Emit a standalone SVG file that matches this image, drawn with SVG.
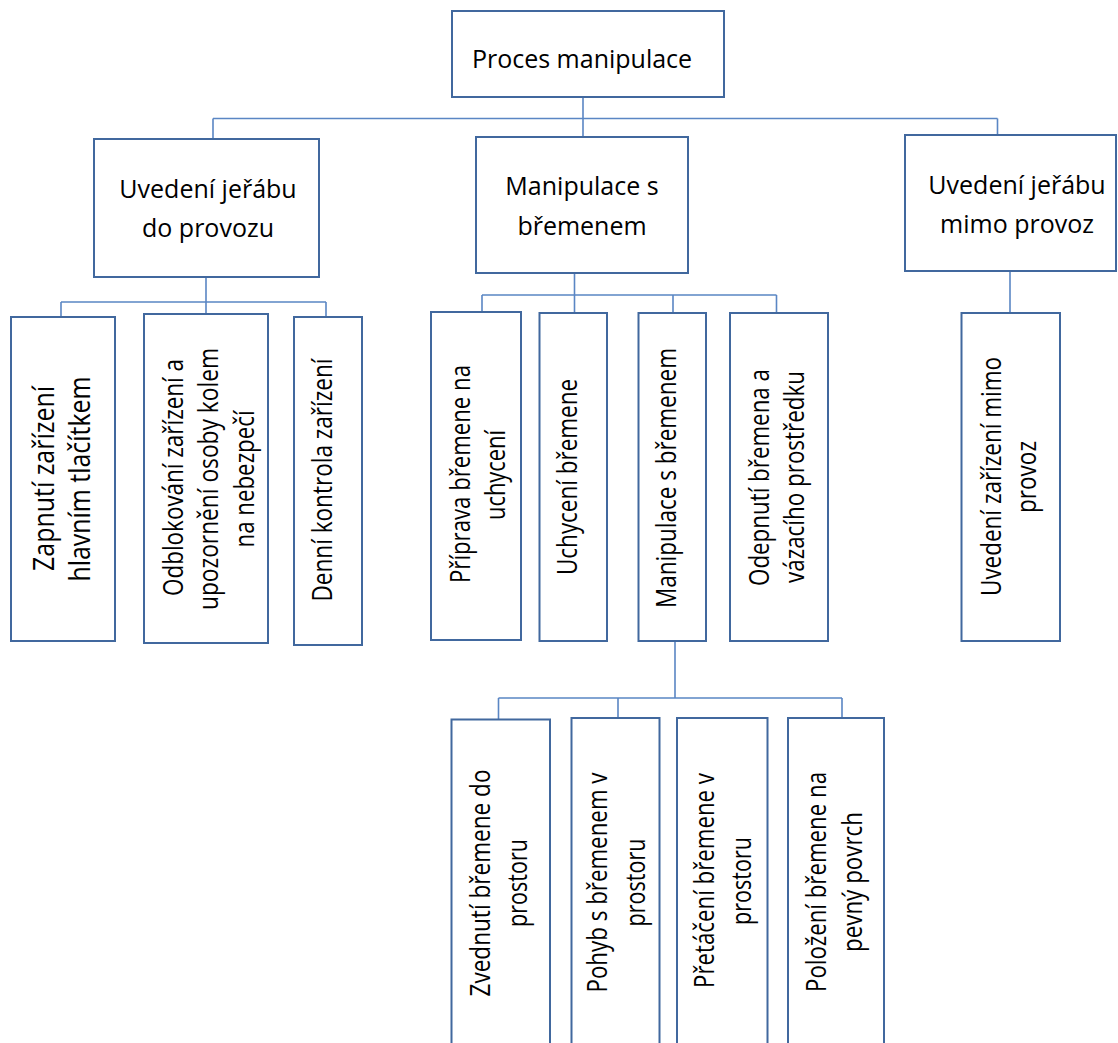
<svg xmlns="http://www.w3.org/2000/svg" width="1118" height="1043" viewBox="0 0 1118 1043">
<style>
.box{fill:#ffffff;stroke:#41689e;stroke-width:2}
.con{fill:none;stroke:#5a86c4;stroke-width:1.6}
.h{font-family:"Open Sans","Noto Sans",sans-serif;font-size:25px;fill:#000;text-anchor:middle}
.v{font-family:"Open Sans","Noto Sans",sans-serif;font-size:27px;fill:#000;text-anchor:middle}
.vb{font-size:30px}
</style>
<rect width="1118" height="1043" fill="#ffffff"/>
<g id="connectors">
<path class="con" d="M583 97V118.5M213 118.5H997.5M213 118.5V139M583 118.5V137M997.5 118.5V135"/>
<path class="con" d="M206 277V314M61 302H326M61 302V317M326 302V317"/>
<path class="con" d="M574.5 273V313M482 295H776.5M482 295V312M673 295V313M776.5 295V313"/>
<path class="con" d="M1010 271V313"/>
<path class="con" d="M675 641V698M498.5 698H842M498.5 698V719.5M618 698V718M842 698V718"/>
</g>
<g id="n-root">
<rect class="box" x="452" y="11" width="272" height="86"/>
<text class="h" x="582" y="68">Proces manipulace</text>
</g>
<g id="n-uvedeni-do">
<rect class="box" x="94" y="139" width="225" height="138"/>
<text class="h" x="208" y="198">Uvedení jeřábu</text>
<text class="h" x="208" y="237">do provozu</text>
</g>
<g id="n-manipulace">
<rect class="box" x="476" y="137" width="212" height="136"/>
<text class="h" x="582" y="195">Manipulace s</text>
<text class="h" x="582" y="235">břemenem</text>
</g>
<g id="n-uvedeni-mimo">
<rect class="box" x="905" y="135" width="211" height="136"/>
<text class="h" x="1017" y="194">Uvedení jeřábu</text>
<text class="h" x="1017" y="233">mimo provoz</text>
</g>
<g id="n-zapnuti">
<rect class="box" x="11" y="317" width="104" height="324"/>
<text class="v vb" transform="translate(53.5,478.5) rotate(-90)" textLength="185" lengthAdjust="spacingAndGlyphs">Zapnutí zařízení</text>
<text class="v vb" transform="translate(90,479) rotate(-90)" textLength="205" lengthAdjust="spacingAndGlyphs">hlavním tlačítkem</text>
</g>
<g id="n-odblokovani">
<rect class="box" x="144" y="314" width="124" height="329"/>
<text class="v" transform="translate(182.5,477.5) rotate(-90)" textLength="237" lengthAdjust="spacingAndGlyphs">Odblokování zařízení a</text>
<text class="v" transform="translate(217.5,479) rotate(-90)" textLength="262" lengthAdjust="spacingAndGlyphs">upozornění osoby kolem</text>
<text class="v" transform="translate(254,479) rotate(-90)" textLength="137" lengthAdjust="spacingAndGlyphs">na nebezpečí</text>
</g>
<g id="n-denni">
<rect class="box" x="294" y="317" width="68" height="328"/>
<text class="v" transform="translate(332,480) rotate(-90)" textLength="243" lengthAdjust="spacingAndGlyphs">Denní kontrola zařízení</text>
</g>
<g id="n-priprava">
<rect class="box" x="431" y="312" width="90" height="328"/>
<text class="v" transform="translate(470,474) rotate(-90)" textLength="218" lengthAdjust="spacingAndGlyphs">Příprava břemene na</text>
<text class="v" transform="translate(505,475) rotate(-90)" textLength="90" lengthAdjust="spacingAndGlyphs">uchycení</text>
</g>
<g id="n-uchyceni">
<rect class="box" x="539.5" y="313" width="67.5" height="328"/>
<text class="v" transform="translate(577,477) rotate(-90)" textLength="196" lengthAdjust="spacingAndGlyphs">Uchycení břemene</text>
</g>
<g id="n-manipulace-s">
<rect class="box" x="638.5" y="313" width="67.5" height="328"/>
<text class="v" transform="translate(676,478) rotate(-90)" textLength="260" lengthAdjust="spacingAndGlyphs">Manipulace s břemenem</text>
</g>
<g id="n-odepnuti">
<rect class="box" x="730" y="313" width="98" height="328"/>
<text class="v" transform="translate(769,477.5) rotate(-90)" textLength="217" lengthAdjust="spacingAndGlyphs">Odepnutí břemena a</text>
<text class="v" transform="translate(804,477) rotate(-90)" textLength="212" lengthAdjust="spacingAndGlyphs">vázacího prostředku</text>
</g>
<g id="n-uvedeni-zarizeni">
<rect class="box" x="961.5" y="313" width="98.5" height="328"/>
<text class="v" transform="translate(1000.5,476.5) rotate(-90)" textLength="239" lengthAdjust="spacingAndGlyphs">Uvedení zařízení mimo</text>
<text class="v" transform="translate(1036,477) rotate(-90)" textLength="72" lengthAdjust="spacingAndGlyphs">provoz</text>
</g>
<g id="n-zvednuti">
<rect class="box" x="451.5" y="719.5" width="98.5" height="340"/>
<text class="v" transform="translate(490,883) rotate(-90)" textLength="227" lengthAdjust="spacingAndGlyphs">Zvednutí břemene do</text>
<text class="v" transform="translate(527,883) rotate(-90)" textLength="88" lengthAdjust="spacingAndGlyphs">prostoru</text>
</g>
<g id="n-pohyb">
<rect class="box" x="571.5" y="718" width="88" height="340"/>
<text class="v" transform="translate(607,882.5) rotate(-90)" textLength="220" lengthAdjust="spacingAndGlyphs">Pohyb s břemenem v</text>
<text class="v" transform="translate(645,882.5) rotate(-90)" textLength="88" lengthAdjust="spacingAndGlyphs">prostoru</text>
</g>
<g id="n-pretaceni">
<rect class="box" x="677" y="718" width="90.5" height="340"/>
<text class="v" transform="translate(714,880.5) rotate(-90)" textLength="215" lengthAdjust="spacingAndGlyphs">Přetáčení břemene v</text>
<text class="v" transform="translate(751,881) rotate(-90)" textLength="88" lengthAdjust="spacingAndGlyphs">prostoru</text>
</g>
<g id="n-polozeni">
<rect class="box" x="788" y="718" width="96" height="340"/>
<text class="v" transform="translate(826,882) rotate(-90)" textLength="220" lengthAdjust="spacingAndGlyphs">Položení břemene na</text>
<text class="v" transform="translate(862,882) rotate(-90)" textLength="140" lengthAdjust="spacingAndGlyphs">pevný povrch</text>
</g>
</svg>
